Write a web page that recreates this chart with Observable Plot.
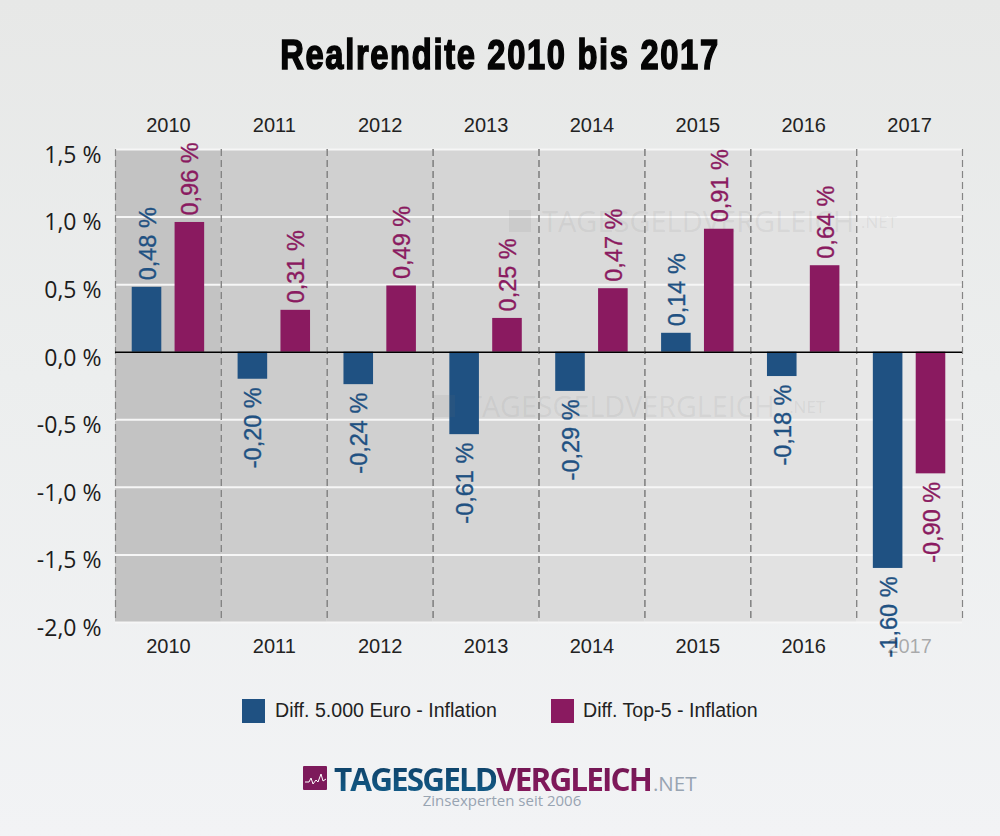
<!DOCTYPE html>
<html><head><meta charset="utf-8">
<script src="https://cdn.jsdelivr.net/npm/d3@7"></script>
<script src="https://cdn.jsdelivr.net/npm/@observablehq/plot@0.6"></script>
<style>
html,body{margin:0;padding:0}
body{width:1000px;height:836px;position:relative;overflow:hidden;
background:linear-gradient(180deg,#e7e8e7 0%,#eceeee 45%,#f2f3f5 100%);}
#chart{position:absolute;left:0;top:0}
.t{position:absolute;white-space:nowrap}
#title{left:0;width:1000px;top:30px;text-align:center;font:bold 43px "Liberation Sans";color:#050505;-webkit-text-stroke:1.6px #050505;letter-spacing:2.2px;transform:scaleX(.76);transform-origin:500px 0}
.lg{font:19.6px "Liberation Sans";color:#222;top:699px}
.sw{position:absolute;top:699px;width:23px;height:24px}
#logo{left:334px;top:765.5px;font:bold 31.5px/26px "Open Sans";letter-spacing:-1.9px}
#logo span.g{-webkit-background-clip:text;background-clip:text;color:transparent}
#sub{left:0;width:1000px;top:792px;text-align:center;font:15px/16px "Open Sans";color:#98a4b2;padding-left:4px;box-sizing:border-box}
#ic{position:absolute;left:303px;top:766px;width:24px;height:24px}
.wi{position:absolute;width:22px;height:22px;background:#777;opacity:.10}
</style></head><body>
<div id="chart"></div>
<div class="wi" style="left:509px;top:210px"></div>
<div class="wi" style="left:433px;top:395px"></div>
<div class="t" id="title">Realrendite 2010 bis 2017</div>
<div class="sw" style="left:242px;background:#1f5182"></div>
<div class="t lg" style="left:275px">Diff. 5.000 Euro - Inflation</div>
<div class="sw" style="left:551px;background:#8a1a60"></div>
<div class="t lg" style="left:583px">Diff. Top-5 - Inflation</div>
<svg id="ic" viewBox="0 0 24 24"><rect width="24" height="24" rx="1" fill="#7d1a5b"/><polyline points="2,16 6,16 8,12 10,18 13,14 15,16 18,8 20,15 23,13" fill="none" stroke="#fff" stroke-width="1"/></svg>
<div class="t" id="logo"><span class="g" style="background-image:linear-gradient(180deg,#0d3a60,#14618e)">TAGESGELD</span><span class="g" style="background-image:linear-gradient(180deg,#6d1651,#8a1a60)">VERGLEICH</span><span style="color:#98a4b2;font-weight:400;font-size:20.5px;letter-spacing:0;margin-left:2px">.NET</span></div>
<div class="t" id="sub">Zinsexperten seit 2006</div>
<script>
const years = ["2010","2011","2012","2013","2014","2015","2016","2017"];
const inflation5000 = [0.48,-0.20,-0.24,-0.61,-0.29,0.14,-0.18,-1.60];
const top5 = [0.96,0.31,0.49,0.25,0.47,0.91,0.64,-0.90];
const bandFills = ["#c3c3c3","#cccccc","#d0d0d0","#d5d5d5","#dadada","#dedede","#e2e2e2","#e8e8e8"];
const gridValues = [1.5,1,0.5,-0.5,-1,-1.5,-2];
const yTicks = [1.5,1,0.5,0,-0.5,-1,-1.5,-2];
const seriesNames = ["Diff. 5.000 Euro - Inflation","Diff. Top-5 - Inflation"];
const seriesColors = ["#1f5182","#8a1a60"];
const watermarkMain = [{year:"2014",y:0.96,label:"TAGESGELDVERGLEICH"}];
const watermarkLower = [{year:"2013",y:-0.41,label:"TAGESGELDVERGLEICH"}];

const rows = years.flatMap((year,i)=>[
  {year,series:seriesNames[0],value:inflation5000[i]},
  {year,series:seriesNames[1],value:top5[i]}
]);
const de = (v,n)=>v.toFixed(n).replace(".",",")+" %";
const bands = years.map((year,i)=>({year,fill:bandFills[i]}));
const labelFont = {fontFamily:"Liberation Sans",fontSize:23.5,rotate:-90,stroke:"series",strokeWidth:0.35};
const wmFont = {fx:"year",y:"y",frameAnchor:"left",textAnchor:"start",fontFamily:"Open Sans",fill:"#777",fillOpacity:0.11};

const plot = Plot.plot({
  width:1000,height:836,
  marginTop:149,marginBottom:214,marginLeft:115,marginRight:38,
  style:{background:"transparent",overflow:"visible"},
  fx:{domain:years,padding:0,axis:null,round:false},
  x:{domain:seriesNames,paddingInner:0.31,paddingOuter:0.39,axis:null,round:false},
  y:{domain:[-2,1.5],axis:null},
  color:{domain:seriesNames,range:seriesColors},
  marks:[
    Plot.barY(bands,{fx:"year",y1:()=>-2,y2:()=>1.5,fill:d=>d.fill,inset:0}),
    Plot.ruleY(gridValues,{stroke:"#f6f6f6",strokeWidth:2}),
    Plot.frame({anchor:"left",stroke:"#858585",strokeWidth:1.2,strokeDasharray:"6,5"}),
    Plot.frame({anchor:"right",stroke:"#858585",strokeWidth:1.2,strokeDasharray:"6,5"}),
    Plot.text(watermarkMain,{...wmFont,dx:3,text:"label",fontSize:29}),
    Plot.text(watermarkMain,{...wmFont,dx:322,text:()=>".NET",fontSize:17}),
    Plot.text(watermarkLower,{...wmFont,dx:33,text:"label",fontSize:28.7}),
    Plot.text(watermarkLower,{...wmFont,dx:356,text:()=>".NET",fontSize:17}),
    Plot.barY(rows,{fx:"year",x:"series",y:"value",fill:"series"}),
    Plot.ruleY([0],{stroke:"#000",strokeWidth:1.5}),
    Plot.axisY({ticks:yTicks,tickSize:0,tickPadding:14,dy:6,tickFormat:d=>de(d,1),
      fontFamily:"Open Sans",fontSize:23,fill:"#1c1c1c",label:null}),
    Plot.text(rows.filter(d=>d.value>=0),{fx:"year",x:"series",y:"value",text:d=>de(d.value,2),fill:"series",textAnchor:"start",dx:1,dy:-7,...labelFont}),
    Plot.text(rows.filter(d=>d.value<0),{fx:"year",x:"series",y:"value",text:d=>de(d.value,2),fill:"series",textAnchor:"end",dx:1,dy:8,...labelFont}),
    Plot.text(years,{fx:d=>d,frameAnchor:"top",dy:-32,text:d=>d,fontFamily:"Liberation Sans",fontSize:20,fill:"#222"}),
    Plot.text(years,{fx:d=>d,frameAnchor:"bottom",dy:30,text:d=>d,fontFamily:"Liberation Sans",fontSize:20,
      fillOpacity:d=>d==="2017"?0.35:1,fill:"#222"})
  ]
});
document.getElementById("chart").append(plot);
</script>
</body></html>
